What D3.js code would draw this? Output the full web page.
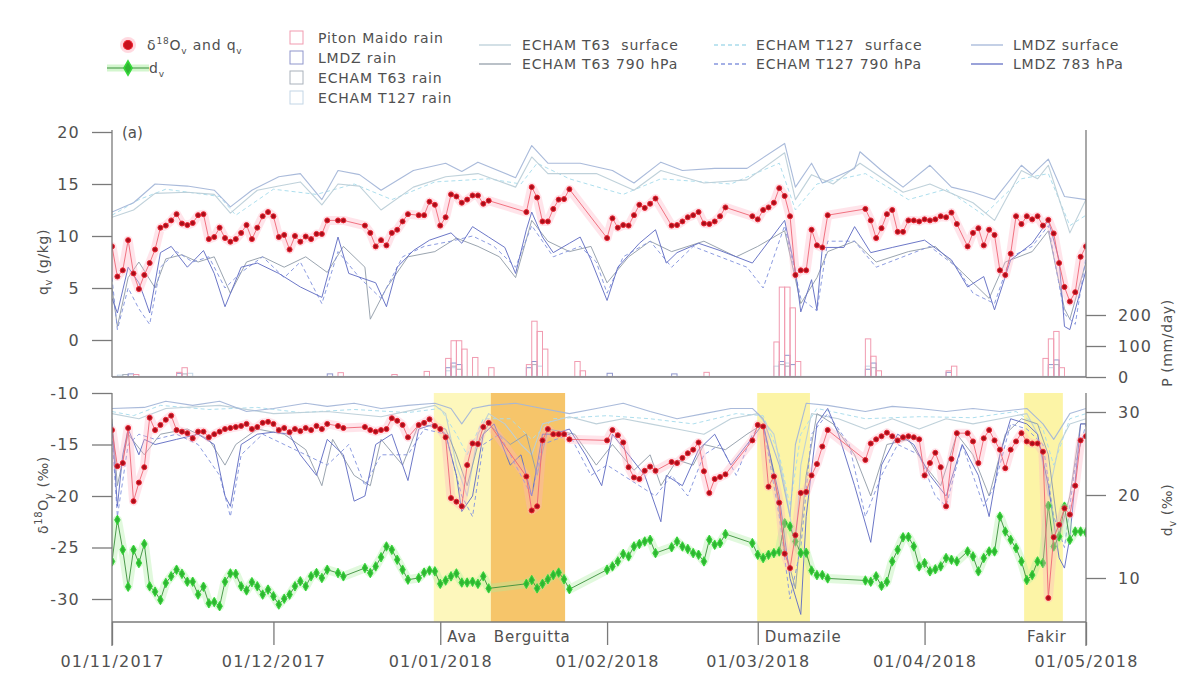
<!DOCTYPE html>
<html><head><meta charset="utf-8">
<script src="https://cdn.jsdelivr.net/npm/d3@7"></script>
<style>
body{margin:0;background:#fff;}
svg{display:block;font-family:"DejaVu Sans",sans-serif;}
</style></head><body>
<svg id="chart" width="1184" height="677"></svg>
<script>
// ---- time frame: day offsets from 1 Nov 2017 ----
const START = new Date(2017, 10, 1);
const END_DAY = 181;
const tickLabels = ["01/11/2017","01/12/2017","01/01/2018","01/02/2018","01/03/2018","01/04/2018","01/05/2018"];

// ---- Piton Maido observations (daily means) ----
const obsDay = [0,1,2,3,4,5,6,7,8,9,10,11,12,13,14,15,16,17,18,19,20,21,22,23,24,25,26,27,28,29,30,31,32,33,34,35,36,37,38,39,40,42,43,
  47,48,49,50,51,52,53,54,55,57,58,59,60,61,62,63,64,65,66,67,68,69,70,77,78,79,80,81,82,83,84,85,
  92,93,94,95,96,97,98,99,100,101,104,105,106,107,108,109,110,111,112,113,114,
  119,120,121,122,123,124,125,126,127,128,129,130,131,132,133,
  140,141,142,143,144,145,146,147,148,149,150,151,152,153,154,155,156,157,
  159,160,161,162,163,164,165,166,167,168,169,170,171,172,173,174,175,176,177,178,179,180,181];
const obsQ = [9.0,6.1,6.7,9.6,6.4,4.9,6.25,7.4,8.7,10.8,11.0,11.5,12.1,11.2,11.05,11.25,12.0,12.1,9.7,9.9,10.8,9.8,9.45,9.7,10.3,11.05,9.7,10.8,11.9,12.3,11.9,9.9,10.1,8.7,10.0,9.45,9.95,9.7,10.2,10.2,11.5,11.5,11.5,
  11.0,10.3,9.0,9.6,9.1,10.3,10.6,11.4,12.1,12.0,12.0,13.3,13.0,11.0,11.8,14.0,13.8,13.2,13.5,13.9,13.9,13.1,13.4,12.3,14.7,13.7,11.4,11.4,12.6,13.5,13.55,14.5,
  9.8,11.7,10.8,11.05,11.0,12.0,13.0,12.7,13.1,13.6,11.0,11.05,11.4,11.8,12.0,12.3,11.2,11.15,11.4,11.9,12.75,
  11.9,11.6,12.5,12.75,13.2,14.6,13.85,11.9,6.25,6.7,6.7,10.6,9.1,8.9,12.0,
  12.6,11.5,9.8,10.75,12.1,12.5,10.4,10.4,11.5,11.5,11.4,11.6,11.5,11.6,11.9,11.8,12.25,11.15,
  9.0,10.3,10.75,9.1,10.6,10.1,6.7,6.25,8.3,11.9,11.15,11.9,11.6,11.9,11.0,11.55,10.25,7.4,5.1,3.7,4.6,8.0,9.0];
const obsO = [-13.6,-17.1,-16.8,-13.4,-20.5,-18.7,-17.2,-12.4,-13.6,-13.1,-12.6,-12.2,-13.6,-13.75,-13.9,-14.4,-13.75,-13.75,-14.3,-14.0,-13.75,-13.5,-13.4,-13.3,-13.2,-13.0,-13.5,-13.3,-12.9,-12.8,-13.0,-13.6,-13.4,-13.8,-13.5,-13.7,-13.4,-13.6,-13.2,-13.5,-13.0,-13.2,-13.4,
  -13.3,-13.6,-13.75,-13.6,-13.5,-12.45,-12.7,-13.1,-14.3,-13.1,-12.9,-12.55,-13.2,-13.5,-14.3,-20.2,-20.55,-21.0,-17.0,-14.9,-14.95,-13.3,-12.9,-18.1,-21.4,-21.0,-14.6,-13.5,-14.0,-14.0,-14.0,-14.5,
  -14.6,-13.6,-14.1,-14.8,-17.2,-18.2,-18.35,-17.55,-17.15,-17.55,-16.7,-16.8,-16.3,-15.85,-15.5,-14.8,-17.6,-19.7,-18.35,-18.15,-17.9,
  -14.6,-13.1,-13.25,-19.1,-18.1,-20.65,-25.6,-27.0,-23.8,-19.7,-19.6,-18.0,-16.9,-15.2,-13.6,
  -16.5,-14.9,-14.5,-14.2,-13.85,-14.2,-14.6,-14.3,-14.2,-14.3,-14.5,-18.0,-16.8,-15.8,-17.2,-21.0,-16.4,-13.9,
  -13.9,-14.7,-16.8,-14.4,-13.6,-14.6,-15.5,-17.3,-15.5,-14.7,-13.9,-14.7,-14.9,-14.9,-15.7,-29.9,-24.0,-22.8,-21.2,-21.8,-19.0,-14.6,-14.2];
const obsD = [12.0,17.0,13.4,8.95,13.4,11.8,14.1,9.0,8.35,7.35,9.4,10.2,11.0,10.5,9.55,9.55,8.0,8.95,6.95,7.1,6.6,9.55,10.55,10.5,9.0,8.5,9.5,9.0,8.0,8.6,7.8,6.8,7.5,8.0,9.0,9.6,9.0,10.2,10.6,10.0,11.0,10.6,10.2,
  11.2,10.6,11.4,12.5,13.8,13.4,12.2,11.0,9.8,10.0,10.65,10.9,10.8,9.3,9.7,10.2,10.55,9.45,9.45,9.55,9.3,10.2,8.75,9.3,9.75,8.75,9.3,9.85,10.35,10.65,9.85,8.65,
  11.0,11.4,12.0,12.9,12.6,13.8,14.1,14.4,14.6,13.0,13.7,14.4,13.8,13.5,13.0,12.8,12.0,14.6,14.0,14.2,15.3,
  14.2,12.8,12.4,12.8,13.0,13.2,16.6,16.2,14.4,13.0,13.05,10.9,10.35,10.35,9.95,
  9.7,9.55,10.2,9.05,9.55,12.0,13.4,14.9,14.95,13.8,11.4,11.8,10.8,11.05,11.4,12.4,12.2,12.0,
  13.2,12.6,10.8,12.4,13.2,13.2,17.4,15.6,14.6,13.6,12.0,9.75,10.35,12.0,11.8,18.7,13.8,15.0,18.6,14.6,15.6,15.6,15.5];

// ---- daily rain [day, mm/day] ----
const rainMaido = [[4,8],[12,15],[13,30],[42,14],[52,8],[58,18],[62,60],[63,117],[64,117],[65,90],[67,63],[70,30],[77,40],[78,180],[79,147],[80,90],[86,50],[87,20],[110,15],[123,113],[124,290],[125,290],[126,223],[127,50],[140,123],[141,67],[142,20],[155,20],[156,35],[173,60],[174,123],[175,147],[176,30]];
const rainLMDZ = [[3,10],[12,12],[40,10],[62,30],[63,45],[64,40],[77,30],[78,50],[92,12],[104,10],[124,50],[125,70],[126,40],[140,25],[141,45],[155,15],[174,40],[175,55]];
const rainT63 = [[2,8],[13,10],[63,35],[64,25],[78,40],[124,40],[125,35],[141,30],[175,40]];
const rainT127 = [[1,6],[14,12],[62,20],[63,30],[79,35],[123,35],[125,45],[140,35],[174,30]];

// ---- simulated specific humidity q (g/kg), [day, value] ----
const lmdzSurfQ = [[0,12.3],[4,13.2],[8,15.0],[14,14.8],[19,14.4],[22,12.8],[26,14.4],[31,15.7],[35,16.0],[39,13.5],[42,16.3],[46,15.9],[50,14.4],[56,16.3],[62,17.0],[65,16.2],[68,17.1],[75,15.6],[78,18.7],[81,17.0],[87,17.0],[93,16.3],[97,15.1],[102,17.1],[106,16.3],[112,16.5],[118,16.5],[125,18.9],[127,14.7],[130,17.0],[132,15.1],[138,16.5],[139,18.1],[143,16.3],[147,14.7],[152,16.8],[156,14.7],[160,14.2],[164,13.5],[169,16.8],[171,15.9],[174,17.4],[177,13.8],[181,13.5]];
const t63SurfQ = [[0,11.8],[4,12.5],[8,14.1],[14,14.2],[19,14.0],[22,12.2],[27,14.4],[31,14.8],[35,15.2],[39,13.0],[42,15.0],[46,14.8],[50,12.5],[56,14.7],[62,15.7],[68,16.0],[75,14.7],[78,17.6],[81,16.0],[90,16.0],[97,14.4],[102,16.3],[110,15.1],[118,15.4],[125,18.0],[127,13.5],[130,15.9],[134,15.0],[139,17.0],[147,14.2],[152,15.0],[160,13.2],[164,11.5],[169,16.3],[172,15.5],[174,16.8],[178,10.3],[181,13.5]];
const t127SurfQ = [[0,12.0],[5,13.5],[10,14.5],[20,13.8],[23,12.0],[30,14.5],[38,14.0],[45,15.0],[52,13.5],[60,15.2],[70,15.5],[76,15.0],[79,17.0],[85,15.5],[95,14.0],[102,15.5],[115,15.0],[124,17.0],[127,12.5],[131,15.0],[140,16.0],[148,13.5],[155,14.5],[162,12.0],[169,15.5],[174,16.0],[178,11.0],[181,12.0]];
const lmdz783Q = [[0,4.0],[1,2.6],[3,7.0],[5,5.5],[6,4.1],[7,2.6],[9,8.4],[11,9.0],[14,7.0],[17,8.6],[19,6.4],[21,3.2],[24,7.0],[27,7.4],[31,6.4],[35,5.1],[39,4.1],[42,9.9],[44,6.4],[49,5.5],[51,3.2],[53,7.0],[56,8.6],[59,9.6],[63,10.3],[65,9.3],[67,10.9],[70,9.9],[73,8.9],[75,6.4],[77,10.6],[78,12.3],[80,9.9],[82,8.4],[85,9.3],[87,9.9],[89,7.7],[92,3.8],[94,7.0],[98,9.3],[101,10.6],[103,7.4],[105,8.4],[109,9.3],[113,8.6],[119,7.4],[125,11.5],[127,6.7],[128,2.7],[130,5.8],[131,2.9],[132,8.9],[136,8.9],[138,10.9],[141,8.4],[145,8.9],[151,9.6],[156,7.7],[159,5.1],[162,6.1],[164,2.9],[167,7.7],[171,9.3],[174,11.5],[176,7.7],[177,1.3],[178,1.0],[181,6.7]];
const t63_790Q = [[0,5.0],[1,1.3],[3,6.0],[5,7.5],[8,5.0],[10,7.8],[13,8.2],[16,7.5],[19,8.0],[22,4.5],[25,7.5],[28,8.0],[32,7.0],[36,8.0],[40,6.5],[43,9.0],[47,7.0],[48,2.0],[51,5.0],[55,8.0],[60,8.5],[64,9.8],[68,9.0],[72,8.0],[75,6.0],[78,11.5],[81,9.5],[85,8.5],[89,9.0],[92,5.5],[96,8.0],[100,9.5],[104,8.5],[110,9.5],[116,8.0],[120,9.0],[125,10.5],[128,3.5],[131,6.0],[133,8.5],[138,9.5],[142,7.5],[148,8.5],[153,9.0],[158,6.5],[163,4.0],[166,7.5],[171,8.5],[174,10.5],[177,3.0],[178,2.0],[181,7.5]];
const t127_790Q = [[0,6.0],[1,1.0],[3,5.0],[5,3.0],[7,1.5],[9,7.0],[12,8.5],[15,7.5],[18,8.0],[21,5.0],[24,6.5],[28,8.0],[32,6.0],[35,7.5],[39,3.5],[42,8.5],[46,6.0],[50,4.0],[54,8.0],[58,9.0],[63,9.5],[67,10.0],[71,9.0],[75,7.0],[78,11.0],[82,8.0],[87,9.0],[90,7.5],[92,4.5],[95,8.0],[100,9.5],[104,7.0],[108,9.0],[113,8.0],[118,7.0],[121,5.0],[125,11.0],[128,4.0],[131,2.8],[133,9.5],[138,9.5],[142,7.0],[147,8.0],[152,9.0],[157,7.0],[160,4.5],[164,3.5],[167,8.0],[171,9.0],[174,11.0],[177,2.5],[179,1.5],[181,8.0]];

// ---- simulated vapour d18O (permil), [day, value] ----
const lmdzSurfO = [[0,-11.5],[6,-11.4],[10,-10.8],[15,-11.2],[20,-10.8],[25,-11.8],[30,-11.5],[36,-11.0],[40,-11.3],[45,-11.0],[50,-11.5],[55,-11.2],[60,-11.0],[63,-11.5],[65,-13.0],[67,-11.5],[70,-11.2],[75,-11.0],[80,-11.5],[85,-12.0],[90,-11.5],[95,-11.0],[100,-11.8],[105,-12.5],[110,-12.0],[115,-11.5],[119,-11.5],[121,-12.5],[124,-17],[126,-22],[127,-15],[129,-11.0],[133,-11.2],[140,-11.8],[145,-11.3],[150,-11.5],[155,-11.8],[160,-11.5],[165,-11.8],[170,-11.5],[173,-13],[175,-14.5],[178,-12],[181,-11.5]];
const t63SurfO = [[0,-12],[5,-12.5],[10,-11.5],[20,-11.2],[30,-12],[40,-11.8],[50,-12.3],[60,-11.2],[62,-12],[64,-17],[66,-20],[68,-14],[70,-12],[73,-13],[76,-15],[78,-16],[80,-13],[85,-12.3],[90,-13],[95,-12.5],[100,-13],[105,-13.5],[110,-14],[115,-12.5],[120,-12],[123,-14],[125,-19],[127,-25],[128,-17],[130,-12],[135,-12.5],[140,-13.5],[145,-12.5],[150,-13.5],[155,-12.5],[160,-13],[165,-12.5],[170,-12],[172,-14],[174,-20],[176,-15],[178,-13],[181,-12.5]];
const t127SurfO = [[0,-11.8],[4,-12.2],[9,-11.2],[18,-11.6],[27,-11.4],[35,-11.9],[45,-11.6],[55,-11.9],[61,-11.5],[64,-14],[66,-16],[69,-12.5],[74,-12.5],[78,-14.5],[82,-12.5],[92,-12.2],[100,-12.5],[108,-13],[116,-12],[121,-12.2],[124,-16],[126,-21],[128,-14],[131,-11.5],[140,-12.5],[150,-12.3],[160,-12.4],[168,-11.8],[173,-13.5],[175,-17],[178,-12.5],[181,-12]];
const lmdz783O = [[0,-13],[1,-21],[2,-16],[3,-13.5],[5,-16],[6,-14.5],[8,-15.0],[12,-14.5],[16,-14],[19,-15],[21,-20],[22,-21],[24,-15],[27,-14],[30,-13.8],[33,-14],[35,-16],[38,-18],[40,-14.5],[43,-16],[45,-20.5],[47,-20],[49,-15],[52,-14],[55,-18.5],[57,-13.5],[60,-13],[62,-14],[64,-18],[65,-21.5],[67,-20],[69,-14],[71,-13],[74,-17],[76,-16],[78,-20],[80,-14],[82,-14],[85,-13.5],[88,-16],[91,-19],[93,-14],[96,-16],[99,-18],[102,-22.5],[103,-18],[106,-19],[109,-15.5],[112,-14],[115,-17],[118,-15],[121,-13],[124,-20],[126,-28],[128,-31.5],[129,-22],[131,-13],[133,-11.5],[135,-14],[138,-19],[141,-24.5],[143,-17],[146,-14],[149,-15],[152,-18],[155,-20],[158,-15],[161,-18],[163,-22],[165,-16],[167,-12.5],[170,-13],[172,-14],[174,-19],[176,-26],[177,-27],[178,-24],[180,-13],[181,-13]];
const t63_790O = [[0,-12.5],[1,-19],[3,-14],[6,-16],[9,-14],[14,-13.5],[18,-14.5],[21,-17],[23,-15],[27,-13.5],[32,-14],[36,-15.5],[39,-19],[41,-14.5],[45,-18],[48,-19],[50,-14.5],[54,-17],[57,-13],[62,-13.5],[64,-16],[66,-19],[68,-15],[70,-13],[74,-15],[77,-14],[79,-18],[81,-13.5],[86,-14],[90,-17],[93,-15],[97,-17.5],[100,-16],[102,-19],[105,-16.5],[108,-17],[110,-15],[114,-15.5],[118,-14],[121,-13],[123,-18],[125,-25],[127,-29],[129,-18],[131,-12],[134,-13],[138,-16],[141,-20],[144,-15],[148,-14.5],[151,-17],[154,-19],[157,-14],[160,-16],[163,-20],[166,-14],[169,-12.5],[172,-13],[174,-16],[176,-24],[178,-20],[180,-13],[181,-13]];
const t127_790O = [[0,-14],[1,-22],[3,-15],[5,-14],[8,-14.5],[12,-14],[16,-15],[20,-18],[22,-22],[24,-16],[28,-14],[32,-15],[36,-16],[40,-17],[44,-15],[47,-19],[50,-16],[55,-16],[58,-13.5],[62,-14],[65,-20],[67,-22],[69,-15],[72,-14],[75,-17],[78,-20],[80,-15],[85,-14],[89,-18],[92,-17],[95,-18],[98,-19],[101,-20],[104,-18],[107,-20],[110,-16],[113,-15],[116,-18],[119,-14],[121,-13],[124,-22],[126,-30],[128,-25],[130,-14],[133,-12],[137,-15],[140,-22],[143,-18],[146,-15],[150,-16],[153,-20],[155,-21],[158,-15],[162,-21],[164,-19],[167,-13],[170,-13.5],[173,-15],[175,-22],[177,-25],[179,-17],[181,-13]];

// ---- tropical cyclones (day offsets) ----
const stormNames = ["Ava","Berguitta","Dumazile","Fakir"];
const stormStart = [59.8, 70.4, 119.9, 169.5];
const stormEnd = [70.4, 84.2, 129.7, 176.7];

// ---------------------------------------------------------------
const svg = d3.select("#chart");
const L = 112, R = 1086;
const x = d3.scaleLinear().domain([0, END_DAY]).range([L, R]);
const yQ = d3.scaleLinear().domain([0, 20]).range([340, 132]);
const yP = d3.scaleLinear().domain([0, 200]).range([377, 315]);
const yO = d3.scaleLinear().domain([-30, -10]).range([599, 393]);
const yDx = d3.scaleLinear().domain([10, 30]).range([578, 412]);
const TOP = {y0: 120, y1: 377}, BOT = {y0: 393, y1: 622};
const monthDays = d3.timeMonth.range(START, d3.timeDay.offset(START, END_DAY + 1)).map(m => d3.timeDay.count(START, m));

const AX = "#7a7a7a", TXT = "#505050";
const stormFill = ["#fdf7bc", "#f6c56a", "#fcf4a6", "#fcf4a6"];

const defs = svg.append("defs");
defs.append("clipPath").attr("id","clipTop").append("rect").attr("x",L).attr("y",TOP.y0).attr("width",R-L).attr("height",TOP.y1-TOP.y0);
defs.append("clipPath").attr("id","clipBot").append("rect").attr("x",L).attr("y",BOT.y0).attr("width",R-L).attr("height",BOT.y1-BOT.y0);

// cyclone shading
svg.append("g").selectAll("rect").data(stormNames).join("rect")
  .attr("x", (d,i) => x(stormStart[i])).attr("width", (d,i) => x(stormEnd[i]) - x(stormStart[i]))
  .attr("y", BOT.y0).attr("height", BOT.y1 - BOT.y0)
  .attr("fill", (d,i) => stormFill[i]);

// model styles
const mStyle = {
  lmdzSurf: {c:"#a4b6d8", dash:null, w:1.1},
  lmdz783:  {c:"#6470c4", dash:null, w:1.0},
  t63Surf:  {c:"#bccfd8", dash:null, w:1.1},
  t63_790:  {c:"#959fab", dash:null, w:1.0},
  t127Surf: {c:"#a9dcec", dash:"4,3", w:1.0},
  t127_790: {c:"#8696de", dash:"4,3", w:1.0}
};

const gTop = svg.append("g").attr("clip-path","url(#clipTop)");
const gBot = svg.append("g").attr("clip-path","url(#clipBot)");

// rain bars (outlined)
const barW = x(1) - x(0);
[[rainT127,"#c3d6e6"],[rainT63,"#aab2bc"],[rainLMDZ,"#8f96cc"],[rainMaido,"#f19bb0"]].forEach(([arr,c]) => {
  gTop.append("g").selectAll("rect").data(arr).join("rect")
    .attr("x", d => x(d[0])).attr("width", barW)
    .attr("y", d => yP(d[1])).attr("height", d => yP(0) - yP(d[1]))
    .attr("fill","none").attr("stroke", c).attr("stroke-width", 1);
});
// near-zero rain baseline
gTop.append("line").attr("x1",L).attr("x2",R).attr("y1",yP(2)).attr("y2",yP(2)).attr("stroke","#c8cde0").attr("stroke-width",1);

function drawModel(g, data, y, st) {
  g.append("path").datum(data)
    .attr("d", d3.line().x(p => x(p[0])).y(p => y(p[1])))
    .attr("fill","none").attr("stroke", st.c).attr("stroke-width", st.w)
    .attr("stroke-dasharray", st.dash).attr("stroke-linejoin","round").attr("opacity",0.95);
}
drawModel(gTop, t127SurfQ, yQ, mStyle.t127Surf);
drawModel(gTop, t63SurfQ, yQ, mStyle.t63Surf);
drawModel(gTop, lmdzSurfQ, yQ, mStyle.lmdzSurf);
drawModel(gTop, t63_790Q, yQ, mStyle.t63_790);
drawModel(gTop, t127_790Q, yQ, mStyle.t127_790);
drawModel(gTop, lmdz783Q, yQ, mStyle.lmdz783);

drawModel(gBot, t127SurfO, yO, mStyle.t127Surf);
drawModel(gBot, t63SurfO, yO, mStyle.t63Surf);
drawModel(gBot, lmdzSurfO, yO, mStyle.lmdzSurf);
drawModel(gBot, t63_790O, yO, mStyle.t63_790);
drawModel(gBot, t127_790O, yO, mStyle.t127_790);
drawModel(gBot, lmdz783O, yO, mStyle.lmdz783);

// observations
const obs = obsDay.map((d,i) => ({day:d, q:obsQ[i], o:obsO[i], dx:obsD[i]}));
function drawObs(g, key, y, halo, lineC, marker) {
  const pts = obs.filter(p => p[key] != null);
  // halo, broken where days are missing
  g.append("path").datum(obs)
    .attr("d", d3.line().defined((p,i) => p[key] != null && ((i > 0 && p.day - obs[i-1].day === 1) || (i + 1 < obs.length && obs[i+1].day - p.day === 1)))
      .x(p => x(p.day)).y(p => y(p[key])))
    .attr("fill","none").attr("stroke", halo).attr("stroke-width", 9)
    .attr("stroke-linejoin","round").attr("stroke-linecap","round").attr("opacity",0.35);
  g.append("path").datum(pts)
    .attr("d", d3.line().x(p => x(p.day)).y(p => y(p[key])))
    .attr("fill","none").attr("stroke", lineC).attr("stroke-width", 0.9);
  marker(g, pts, key, y);
}
const circles = (g, pts, key, y) => g.append("g").selectAll("circle").data(pts).join("circle")
  .attr("cx", p => x(p.day)).attr("cy", p => y(p[key])).attr("r", 2.5)
  .attr("fill","#a80e1a").attr("stroke","#ec2432").attr("stroke-width",1);
const diamonds = (g, pts, key, y) => g.append("g").selectAll("path").data(pts).join("path")
  .attr("d", d3.symbol(d3.symbolDiamond, 26))
  .attr("transform", p => `translate(${x(p.day)},${y(p[key])})`)
  .attr("fill","#2fb532").attr("stroke","#36d83a").attr("stroke-width",1);

drawObs(gTop, "q", yQ, "#ffb3c4", "#ee6474", circles);
drawObs(gBot, "dx", yDx, "#a9ee9f", "#3a8f3a", diamonds);
drawObs(gBot, "o", yO, "#ffb3c4", "#ee6474", circles);

// ---- frames and axes ----
const frame = svg.append("g").attr("stroke", AX).attr("stroke-width", 1.3).attr("fill","none");
frame.append("line").attr("x1",L).attr("x2",L).attr("y1",130).attr("y2",TOP.y1);
frame.append("line").attr("x1",R).attr("x2",R).attr("y1",130).attr("y2",TOP.y1);
frame.append("line").attr("x1",L).attr("x2",R).attr("y1",TOP.y1).attr("y2",TOP.y1);
frame.append("line").attr("x1",L).attr("x2",L).attr("y1",BOT.y0).attr("y2",646);
frame.append("line").attr("x1",R).attr("x2",R).attr("y1",BOT.y0).attr("y2",646);
frame.append("line").attr("x1",L).attr("x2",R).attr("y1",BOT.y1).attr("y2",BOT.y1);

function styleAxis(g) {
  g.select(".domain").remove();
  g.selectAll(".tick line").attr("stroke", AX).attr("stroke-width", 1.3);
  g.selectAll(".tick text").attr("fill", TXT).style("font-size","16px").style("letter-spacing","1.2px")
    .style("font-family",'"DejaVu Sans",sans-serif');
}
const plain = v => String(v);
svg.append("g").attr("transform",`translate(${L},0)`)
  .call(d3.axisLeft(yQ).tickValues([0,5,10,15,20]).tickFormat(plain).tickSize(20).tickPadding(12)).call(styleAxis);
svg.append("g").attr("transform",`translate(${L},0)`)
  .call(d3.axisLeft(yO).tickValues([-30,-25,-20,-15,-10]).tickFormat(plain).tickSize(20).tickPadding(12)).call(styleAxis);
svg.append("g").attr("transform",`translate(${R},0)`)
  .call(d3.axisRight(yP).tickValues([0,100,200]).tickFormat(plain).tickSize(20).tickPadding(12)).call(styleAxis);
svg.append("g").attr("transform",`translate(${R},0)`)
  .call(d3.axisRight(yDx).tickValues([10,20,30]).tickFormat(plain).tickSize(20).tickPadding(12)).call(styleAxis);
svg.append("g").attr("transform",`translate(0,${BOT.y1})`)
  .call(d3.axisBottom(x).tickValues(monthDays).tickSize(23).tickPadding(11).tickFormat((d,i) => tickLabels[i])).call(styleAxis);

// cyclone names
svg.append("g").selectAll("text").data(stormNames).join("text")
  .attr("x", (d,i) => {
    const s = x(stormStart[i]);
    const t = monthDays.map(x).find(v => Math.abs(v - s) < 8);
    return t !== undefined ? t + 7 : s + 3;
  })
  .attr("y", 642).attr("fill", TXT).style("font-size","15px").style("letter-spacing","0.8px").text(d => d);

// axis titles
function vtitle(xp, yp, parts) {
  const t = svg.append("text").attr("transform",`translate(${xp},${yp}) rotate(-90)`)
    .attr("text-anchor","middle").attr("fill", TXT).style("font-size","14px").style("letter-spacing","0.6px");
  parts.forEach(p => t.append("tspan").attr("dy", p.dy || 0).style("font-size", p.fs || null).text(p.t));
}
vtitle(48, 262, [{t:"q"},{t:"v",dy:4,fs:"10px"},{t:" (g/kg)",dy:-4}]);
vtitle(48, 495, [{t:"δ"},{t:"18",dy:-6,fs:"10px"},{t:"O",dy:6},{t:"v",dy:4,fs:"10px"},{t:" (‰)",dy:-4}]);
vtitle(1172, 343, [{t:"P (mm/day)"}]);
vtitle(1172, 510, [{t:"d"},{t:"v",dy:4,fs:"10px"},{t:" (‰)",dy:-4}]);

svg.append("text").attr("x",122).attr("y",138).attr("fill",TXT).style("font-size","15px").text("(a)");

// ---- legend ----
const lg = svg.append("g").style("font-size","14px").style("letter-spacing","0.8px").attr("fill", TXT);
lg.append("circle").attr("cx",128).attr("cy",45).attr("r",8).attr("fill","#ffc9d3").attr("opacity",0.7);
lg.append("circle").attr("cx",128).attr("cy",45).attr("r",4.5).attr("fill","#c8101c").attr("stroke","#ec2432").attr("stroke-width",1.2);
const t1 = lg.append("text").attr("x",147).attr("y",50);
t1.append("tspan").text("δ");
t1.append("tspan").attr("dy",-6).style("font-size","9px").text("18");
t1.append("tspan").attr("dy",6).text("O");
t1.append("tspan").attr("dy",4).style("font-size","9px").text("v");
t1.append("tspan").attr("dy",-4).text(" and q");
t1.append("tspan").attr("dy",4).style("font-size","9px").text("v");
lg.append("line").attr("x1",107).attr("x2",149).attr("y1",68).attr("y2",68).attr("stroke","#a9ee9f").attr("stroke-width",7).attr("opacity",0.5);
lg.append("line").attr("x1",107).attr("x2",149).attr("y1",68).attr("y2",68).attr("stroke","#3a8f3a").attr("stroke-width",1.2);
lg.append("path").attr("d", d3.symbol(d3.symbolDiamond, 60)).attr("transform","translate(128,68)")
  .attr("fill","#2fb532").attr("stroke","#36d83a").attr("stroke-width",1.5);
const t2 = lg.append("text").attr("x",149).attr("y",73);
t2.append("tspan").text("d");
t2.append("tspan").attr("dy",4).style("font-size","9px").text("v");

const rainLeg = [["Piton Maido rain","#f19bb0"],["LMDZ rain","#8f96cc"],["ECHAM T63 rain","#aab2bc"],["ECHAM T127 rain","#c3d6e6"]];
rainLeg.forEach(([lab,c],i) => {
  const yy = 38 + i*20;
  lg.append("rect").attr("x",290).attr("y",yy-7).attr("width",13).attr("height",13).attr("fill","none").attr("stroke",c);
  lg.append("text").attr("x",318).attr("y",yy+5).text(lab);
});
const modelLeg = [
  ["ECHAM T63  surface", mStyle.t63Surf, 479, 522, 45],
  ["ECHAM T63 790 hPa", mStyle.t63_790, 479, 522, 64],
  ["ECHAM T127  surface", mStyle.t127Surf, 714, 756, 45],
  ["ECHAM T127 790 hPa", mStyle.t127_790, 714, 756, 64],
  ["LMDZ surface", mStyle.lmdzSurf, 971, 1013, 45],
  ["LMDZ 783 hPa", mStyle.lmdz783, 971, 1013, 64]
];
modelLeg.forEach(([lab, st, x0, tx, yy]) => {
  lg.append("line").attr("x1",x0).attr("x2",x0+32).attr("y1",yy).attr("y2",yy)
    .attr("stroke",st.c).attr("stroke-width",1.3).attr("stroke-dasharray",st.dash);
  lg.append("text").attr("x",tx).attr("y",yy+5).style("white-space","pre").text(lab);
});
</script>
</body></html>
